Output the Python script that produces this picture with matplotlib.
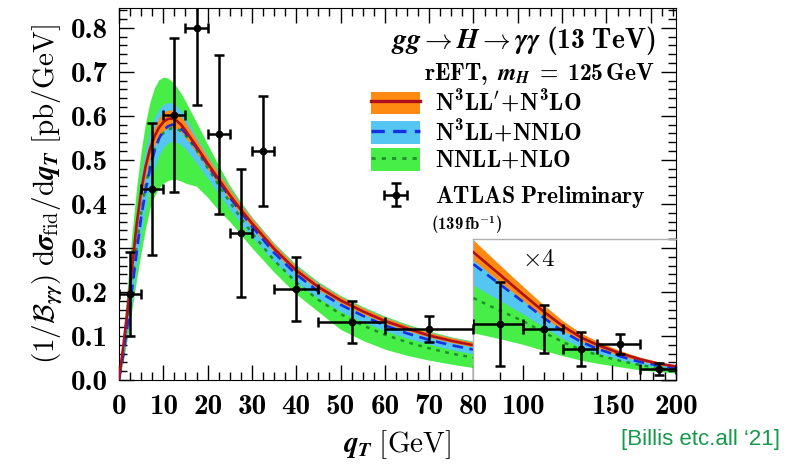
import matplotlib
matplotlib.use("Agg")
import matplotlib.pyplot as plt
import numpy as np
from matplotlib.patches import Patch
from matplotlib.lines import Line2D
from matplotlib.ticker import MultipleLocator, FixedLocator, FixedFormatter, NullFormatter

# ─── Fonts (Computer Modern look) ─────────────────────────────────────────────
plt.rcParams["mathtext.fontset"] = "custom"
plt.rcParams["mathtext.rm"] = "cmr10"
plt.rcParams["mathtext.bf"] = "cmb10"
plt.rcParams["mathtext.it"] = "STIXGeneral:italic:bold"
plt.rcParams["mathtext.bfit"] = "STIXGeneral:italic:bold"
plt.rcParams["mathtext.cal"] = "cmsy10"

# ─── Data: theory curves, 0-80 GeV ────────────────────────────────────────────
qt_lo = [0, 1, 2, 3, 4, 5, 6, 7, 8, 9, 10, 11, 12, 13, 14, 15, 17.5, 20, 22.5, 25,
         27.5, 30, 35, 40, 45, 50, 55, 60, 65, 70, 75, 80]
n3ll_c  = [0, 0.08, 0.165, 0.26, 0.355, 0.43, 0.485, 0.525, 0.553, 0.573, 0.586, 0.593,
           0.594, 0.589, 0.580, 0.567, 0.530, 0.492, 0.456, 0.420, 0.387, 0.356, 0.298,
           0.249, 0.211, 0.181, 0.156, 0.134, 0.117, 0.101, 0.089, 0.079]
n3ll_lo = [0, 0.075, 0.155, 0.245, 0.335, 0.41, 0.465, 0.505, 0.533, 0.553, 0.566, 0.573,
           0.575, 0.571, 0.563, 0.551, 0.516, 0.479, 0.444, 0.409, 0.377, 0.347, 0.29,
           0.242, 0.205, 0.175, 0.15, 0.129, 0.112, 0.097, 0.085, 0.075]
n3ll_hi = [0, 0.085, 0.175, 0.275, 0.375, 0.45, 0.505, 0.545, 0.574, 0.595, 0.608, 0.613,
           0.613, 0.608, 0.598, 0.585, 0.546, 0.506, 0.469, 0.433, 0.399, 0.367, 0.308,
           0.258, 0.219, 0.189, 0.164, 0.142, 0.124, 0.108, 0.096, 0.086]
nnlo_c  = [0, 0.06, 0.13, 0.21, 0.29, 0.37, 0.43, 0.48, 0.52, 0.548, 0.566, 0.576, 0.58,
           0.578, 0.571, 0.561, 0.527, 0.489, 0.452, 0.415, 0.381, 0.349, 0.289, 0.240,
           0.201, 0.171, 0.146, 0.124, 0.106, 0.091, 0.079, 0.069]
nnlo_lo = [0, 0.05, 0.11, 0.18, 0.26, 0.33, 0.39, 0.44, 0.48, 0.51, 0.528, 0.538, 0.542,
           0.54, 0.534, 0.525, 0.493, 0.458, 0.423, 0.388, 0.355, 0.325, 0.268, 0.222,
           0.185, 0.156, 0.132, 0.112, 0.095, 0.081, 0.069, 0.059]
nnlo_hi = [0, 0.09, 0.185, 0.285, 0.385, 0.465, 0.525, 0.568, 0.597, 0.615, 0.626, 0.63,
           0.629, 0.623, 0.612, 0.597, 0.552, 0.51, 0.472, 0.436, 0.401, 0.369, 0.31,
           0.26, 0.221, 0.19, 0.165, 0.143, 0.125, 0.109, 0.097, 0.087]
nlo_c   = [0, 0.07, 0.145, 0.225, 0.305, 0.38, 0.44, 0.487, 0.522, 0.547, 0.561, 0.569,
           0.572, 0.571, 0.565, 0.556, 0.522, 0.482, 0.443, 0.404, 0.368, 0.334, 0.272,
           0.222, 0.182, 0.150, 0.124, 0.103, 0.086, 0.072, 0.060, 0.051]
nlo_lo  = [0, 0.045, 0.1, 0.165, 0.23, 0.29, 0.345, 0.39, 0.418, 0.436, 0.447, 0.453,
           0.456, 0.455, 0.452, 0.447, 0.44, 0.415, 0.385, 0.36, 0.33, 0.3, 0.245, 0.195,
           0.155, 0.115, 0.09, 0.07, 0.056, 0.045, 0.036, 0.028]
nlo_hi  = [0, 0.11, 0.225, 0.34, 0.44, 0.52, 0.585, 0.632, 0.664, 0.682, 0.688, 0.686,
           0.678, 0.666, 0.651, 0.633, 0.585, 0.535, 0.487, 0.442, 0.404, 0.37, 0.311,
           0.262, 0.223, 0.192, 0.167, 0.145, 0.127, 0.111, 0.098, 0.088]

# ─── Data: theory curves, 80-200 GeV (shown x4) ───────────────────────────────
qt_hi = [80, 90, 100, 110, 120, 130, 140, 155, 170, 185, 200]
n3ll_c_r  = [0.29, 0.24, 0.195, 0.155, 0.122, 0.097, 0.08, 0.061, 0.047, 0.037, 0.031]
n3ll_lo_r = [0.272, 0.224, 0.181, 0.143, 0.112, 0.089, 0.073, 0.055, 0.043, 0.034, 0.028]
n3ll_hi_r = [0.318, 0.262, 0.213, 0.17, 0.134, 0.107, 0.088, 0.067, 0.052, 0.041, 0.034]
nnlo_c_r  = [0.263, 0.218, 0.178, 0.141, 0.11, 0.087, 0.071, 0.054, 0.041, 0.033, 0.027]
nnlo_lo_r = [0.215, 0.181, 0.15, 0.12, 0.094, 0.074, 0.061, 0.046, 0.035, 0.028, 0.023]
nnlo_hi_r = [0.3, 0.248, 0.203, 0.162, 0.128, 0.102, 0.084, 0.064, 0.049, 0.039, 0.032]
nlo_c_r   = [0.186, 0.158, 0.134, 0.108, 0.086, 0.069, 0.057, 0.044, 0.034, 0.027, 0.022]
nlo_lo_r  = [0.107, 0.094, 0.081, 0.067, 0.055, 0.045, 0.038, 0.03, 0.023, 0.019, 0.016]
nlo_hi_r  = [0.316, 0.26, 0.212, 0.169, 0.133, 0.106, 0.087, 0.066, 0.051, 0.04, 0.033]

# ─── Data: ATLAS points ──────────────────────────────────────────────────────
atlas_x    = [2.5, 7.5, 12.5, 17.5, 22.5, 27.5, 32.5, 40, 52.5, 70]
atlas_xlo  = [0, 5, 10, 15, 20, 25, 30, 35, 45, 60]
atlas_xhi  = [5, 10, 15, 20, 25, 30, 35, 45, 60, 80]
atlas_y    = [0.195, 0.434, 0.602, 0.80, 0.558, 0.334, 0.52, 0.207, 0.132, 0.116]
atlas_err  = [0.095, 0.15, 0.175, 0.175, 0.18, 0.145, 0.125, 0.073, 0.048, 0.03]

atlas_x_r   = [90, 110, 130, 155, 185]
atlas_xlo_r = [80, 100, 120, 140, 170]
atlas_xhi_r = [100, 120, 140, 170, 200]
atlas_y_r   = [0.127, 0.116, 0.07, 0.082, 0.025]   # already x4
atlas_err_r = [0.095, 0.055, 0.038, 0.023, 0.013]

# ─── Style ───────────────────────────────────────────────────────────────────
c_orange, c_red = "#ff8a12", "#b0101c"
c_sky, c_blue = "#55c5f2", "#1530e0"
c_green, c_dgreen = "#48ee48", "#1f8f2a"

X_MAX = 125.7
Y_MAX = 0.845
INSET_TOP = 0.32
TICK_FS = 21

fig = plt.figure(figsize=(8.02, 4.71), dpi=100)
ax = fig.add_axes([119 / 802, 1 - 380 / 471, 557 / 802, 372 / 471])
ax.set_xlim(0, X_MAX)
ax.set_ylim(0, Y_MAX)


def draw_theory(a, x, bands, lines):
    for lo, hi, col in bands:
        a.fill_between(x, lo, hi, color=col, lw=0, zorder=1)
    for y, col, ls, lw in lines:
        a.plot(x, y, color=col, ls=ls, lw=lw, zorder=3)


draw_theory(ax, qt_lo,
            [(nlo_lo, nlo_hi, c_green), (nnlo_lo, nnlo_hi, c_sky), (n3ll_lo, n3ll_hi, c_orange)],
            [(nlo_c, c_dgreen, (0, (1.5, 2.2)), 1.8), (nnlo_c, c_blue, (0, (4, 2.5)), 1.9),
             (n3ll_c, c_red, "-", 1.9)])

xl = np.array(atlas_x)
eb = ax.errorbar(atlas_x, atlas_y, yerr=atlas_err,
                 xerr=[xl - np.array(atlas_xlo), np.array(atlas_xhi) - xl],
                 fmt="o", color="black", ms=4.5, elinewidth=1.8, capsize=3.5, capthick=1.8,
                 zorder=5, clip_on=True)

# ─── Axis ticks / labels ─────────────────────────────────────────────────────
xmaj = list(range(0, 130, 10))
ax.xaxis.set_major_locator(FixedLocator(xmaj))
ax.xaxis.set_major_formatter(FixedFormatter([str(v) if v <= 80 else "" for v in xmaj]))
ax.xaxis.set_minor_locator(MultipleLocator(2.5))
ax.yaxis.set_minor_locator(MultipleLocator(0.02))
ax.tick_params(which="both", direction="in", top=True, right=True, width=1.0)
ax.tick_params(which="major", length=11)
ax.tick_params(which="minor", length=5.5)
ax.tick_params(axis="x", pad=10)
ax.tick_params(axis="y", pad=8)
yt = np.arange(0, 0.81, 0.1)
ax.set_yticks(yt)
ax.set_yticklabels([f"{v:.1f}" for v in yt])
for lab in ax.get_xticklabels() + ax.get_yticklabels():
    lab.set_fontfamily("cmb10")
    lab.set_fontsize(TICK_FS)

ax.set_xlabel(r"$q_T\ \mathrm{[GeV]}$", fontsize=21, labelpad=6)
ax.set_ylabel(r"$(1/\mathcal{B}_{\gamma\gamma})\ \mathrm{d}\sigma_{\mathrm{fid}}/\mathrm{d}q_T\ \mathrm{[pb/GeV]}$",
              fontsize=21, labelpad=4)

# ─── Inset for 80-200 GeV (x4, log x) ────────────────────────────────────────
axi = ax.inset_axes([80, 0, X_MAX - 80, INSET_TOP], transform=ax.transData, zorder=4)
axi.set_xscale("log")
axi.set_xlim(80, 200)
axi.set_ylim(0, INSET_TOP)
draw_theory(axi, qt_hi,
            [(nlo_lo_r, nlo_hi_r, c_green), (nnlo_lo_r, nnlo_hi_r, c_sky),
             (n3ll_lo_r, n3ll_hi_r, c_orange)],
            [(nlo_c_r, c_dgreen, (0, (1.5, 2.2)), 1.8), (nnlo_c_r, c_blue, (0, (4, 2.5)), 1.9),
             (n3ll_c_r, c_red, "-", 1.9)])
xr = np.array(atlas_x_r)
axi.errorbar(atlas_x_r, atlas_y_r, yerr=atlas_err_r,
             xerr=[xr - np.array(atlas_xlo_r), np.array(atlas_xhi_r) - xr],
             fmt="o", color="black", ms=4.5, elinewidth=1.8, capsize=3.5, capthick=1.8, zorder=5)
axi.xaxis.set_major_locator(FixedLocator([100, 150, 200]))
axi.xaxis.set_major_formatter(FixedFormatter(["100", "150", "200"]))
axi.xaxis.set_minor_locator(FixedLocator([90, 110, 120, 130, 140, 160, 170, 180, 190]))
axi.xaxis.set_minor_formatter(NullFormatter())
axi.yaxis.set_major_locator(MultipleLocator(0.1))
axi.yaxis.set_minor_locator(MultipleLocator(0.02))
axi.tick_params(which="both", direction="in", left=False, right=True, labelleft=False,
                labelright=False, width=1.0)
axi.tick_params(which="major", length=11)
axi.tick_params(which="minor", length=5.5)
axi.tick_params(axis="x", pad=10)
for lab in axi.get_xticklabels():
    lab.set_fontfamily("cmb10")
    lab.set_fontsize(TICK_FS)
for s in ("top", "left"):
    axi.spines[s].set_color("#b0b0b0")
    axi.spines[s].set_linewidth(1.0)
axi.text(0.32, 0.86, r"$\times\mathrm{4}$", transform=axi.transAxes, fontsize=18,
         ha="center", va="center")

# ─── Annotations & legend ────────────────────────────────────────────────────
ax.text(0.962, 0.912, r"$gg \rightarrow H \rightarrow \gamma\gamma\ \mathbf{(13\ TeV)}$",
        transform=ax.transAxes, ha="right", va="center", fontsize=20)
ax.text(0.962, 0.822, r"$\mathbf{rEFT,}\ m_H\ \mathbf{=\ 125\,GeV}$",
        transform=ax.transAxes, ha="right", va="center", fontsize=17)

th_handles = [
    (Patch(facecolor=c_orange, lw=0), Line2D([], [], color=c_red, lw=2.4)),
    (Patch(facecolor=c_sky, lw=0), Line2D([], [], color=c_blue, lw=2.4, ls=(0, (4, 2.5)))),
    (Patch(facecolor=c_green, lw=0), Line2D([], [], color=c_dgreen, lw=2.0, ls=(0, (1.5, 2.2)))),
]
th_labels = [r"$\mathbf{N^3LL^{\prime}\!+\!N^3LO}$", r"$\mathbf{N^3LL\!+\!NNLO}$",
             r"$\mathbf{NNLL\!+\!NLO}$"]
leg1 = ax.legend(th_handles, th_labels, loc="upper left", bbox_to_anchor=(0.452, 0.782),
                 frameon=False, fontsize=17, handlelength=2.1, handleheight=1.1,
                 labelspacing=0.1, handletextpad=0.6, borderaxespad=0, borderpad=0)
ax.add_artist(leg1)
leg2 = ax.legend([eb], [r"$\mathbf{ATLAS\ Preliminary}$"], loc="upper left",
                 bbox_to_anchor=(0.452, 0.527), frameon=False, fontsize=17,
                 handlelength=2.1, handletextpad=0.6, borderaxespad=0, borderpad=0)
ax.text(0.561, 0.418, r"$\mathbf{(139\,fb^{-1})}$", transform=ax.transAxes,
        ha="left", va="center", fontsize=12)

fig.text(0.973, 0.066, "[Billis etc.all \u201821]", color="#16994a", fontsize=16,
         family="Liberation Sans", ha="right", va="center")

plt.savefig("out.png", dpi=100)
